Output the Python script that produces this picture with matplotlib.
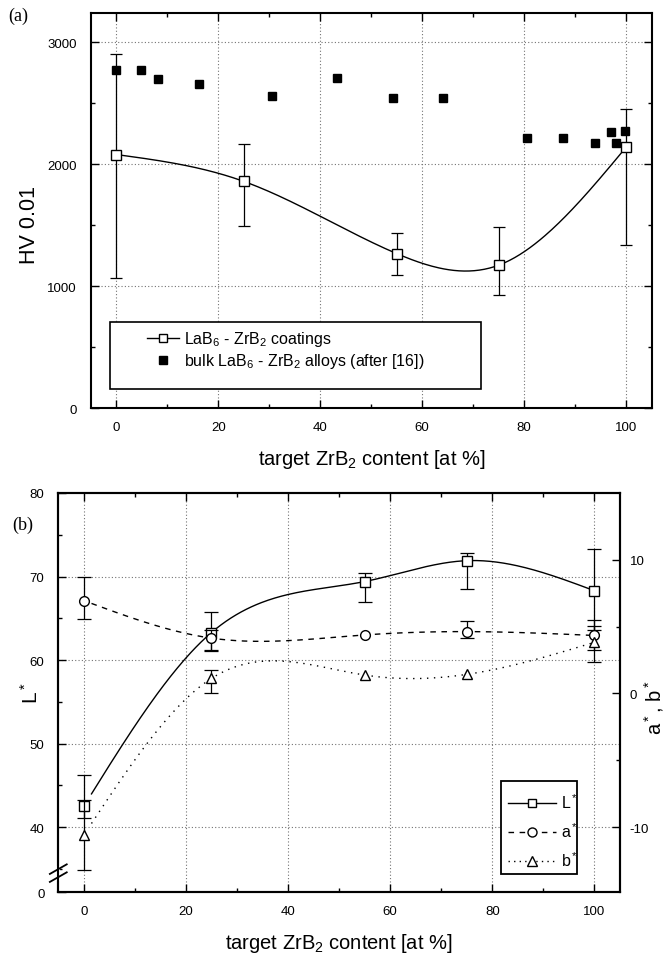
import numpy as np
import matplotlib
matplotlib.use("Agg")
import matplotlib.pyplot as plt
from matplotlib.patches import Rectangle
from matplotlib.lines import Line2D

plt.rcParams['font.family'] = ['Liberation Sans', 'DejaVu Sans']
plt.rcParams['mathtext.fontset'] = 'custom'
plt.rcParams['mathtext.rm'] = 'Liberation Sans'
plt.rcParams['mathtext.it'] = 'Liberation Sans:italic'
plt.rcParams['mathtext.bf'] = 'Liberation Sans:bold'
plt.rcParams['axes.unicode_minus'] = False

# ---------------- data: panel (a) ----------------
coat_x = [0, 25, 55, 75, 100]
coat_hv = [2080, 1860, 1268, 1173, 2141]
coat_err_lo = [1010, 368, 174, 246, 800]
coat_err_hi = [820, 303, 169, 313, 313]

bulk_x = [0, 4.8, 8.1, 16.2, 30.6, 43.2, 54.3, 64.1, 80.6, 87.6, 93.9, 97.0, 98.0, 99.7]
bulk_hv = [2773, 2773, 2700, 2656, 2563, 2711, 2542, 2542, 2217, 2217, 2171, 2263, 2171, 2269]

# ---------------- data: panel (b) ----------------
col_x = [0, 25, 55, 75, 100]
L_star = [42.5, 63.3, 69.4, 71.9, 68.3]
L_err_lo = [1.4, 2.2, 2.4, 3.4, 4.7]
L_err_hi = [3.7, 2.4, 1.0, 0.9, 5.0]
a_star = [6.95, 4.14, 4.38, 4.63, 4.34]
a_err_lo = [1.4, 0.9, 0.0, 0.49, 1.08]
a_err_hi = [1.8, 0.6, 0.0, 0.77, 1.17]
b_star = [-10.6, 1.13, 1.38, 1.43, 3.83]
b_err_lo = [2.6, 1.1, 0.0, 0.0, 1.45]
b_err_hi = [2.6, 0.6, 0.0, 0.0, 1.2]

x_ticks = [0, 20, 40, 60, 80, 100]
hv_ticks = [0, 1000, 2000, 3000]
L_ticks = [40, 50, 60, 70, 80]
ab_ticks = [-10, 0, 10]

TICK_FS = 9.5
LABEL_FS = 14.5


def natural_spline(x, y, xs):
    x = np.asarray(x, float); y = np.asarray(y, float)
    n = len(x); h = np.diff(x)
    A = np.zeros((n, n)); r = np.zeros(n)
    A[0, 0] = 1; A[-1, -1] = 1
    for i in range(1, n - 1):
        A[i, i - 1] = h[i - 1]; A[i, i] = 2 * (h[i - 1] + h[i]); A[i, i + 1] = h[i]
        r[i] = 3 * ((y[i + 1] - y[i]) / h[i] - (y[i] - y[i - 1]) / h[i - 1])
    c = np.linalg.solve(A, r)
    b = (y[1:] - y[:-1]) / h - h * (2 * c[:-1] + c[1:]) / 3
    d = (c[1:] - c[:-1]) / (3 * h)
    idx = np.clip(np.searchsorted(x, xs) - 1, 0, n - 2)
    dx = xs - x[idx]
    return y[idx] + b[idx] * dx + c[idx] * dx ** 2 + d[idx] * dx ** 3


def err_subset(x, y, lo, hi):
    x = np.asarray(x); y = np.asarray(y); lo = np.asarray(lo); hi = np.asarray(hi)
    m = (lo > 0) | (hi > 0)
    return x[m], y[m], np.vstack([lo[m], hi[m]])


grid_kw = dict(color='0.45', linestyle=(0, (1, 2)), linewidth=0.8)
fig = plt.figure(figsize=(6.71, 9.54), dpi=100)

# ================= panel (a) =================
axa = fig.add_axes([90.7 / 671, 1 - 409.3 / 954, 561 / 671, 395.3 / 954])
axa.set_xlim(-5, 105)
axa.set_ylim(0, 3240)
axa.set_xticks(x_ticks)
axa.set_xticks(np.arange(10, 100, 20), minor=True)
axa.set_yticks(hv_ticks)
axa.set_yticks([500, 1500, 2500], minor=True)
for xv in x_ticks:
    axa.axvline(xv, zorder=0.5, **grid_kw)
for yv in hv_ticks[1:]:
    axa.axhline(yv, zorder=0.5, **grid_kw)

xs = np.linspace(coat_x[0] + 1, coat_x[-1], 300)
axa.plot(xs, natural_spline(coat_x, coat_hv, xs), color='k', lw=1.0, zorder=2)
ex, ey, ee = err_subset(coat_x, coat_hv, coat_err_lo, coat_err_hi)
axa.errorbar(ex, ey, yerr=ee, fmt='none', ecolor='k', elinewidth=0.9, capsize=4, capthick=0.9, zorder=2.5)
axa.plot(coat_x, coat_hv, 's', ms=6.5, mfc='white', mec='k', mew=1.0, ls='none', zorder=3)
axa.plot(bulk_x, bulk_hv, 's', ms=6, mfc='k', mec='k', ls='none', zorder=3)

axa.tick_params(which='both', direction='in', top=True, right=True, width=1.0, labelsize=TICK_FS)
axa.tick_params(which='major', length=5.5)
axa.tick_params(which='minor', length=3)
axa.tick_params(axis='x', pad=9)
axa.tick_params(axis='y', pad=10)
for s in axa.spines.values():
    s.set_linewidth(1.5)
axa.set_ylabel('HV 0.01', fontsize=15.5)
axa.yaxis.set_label_coords(-0.09, 0.466)
axa.set_xlabel('target ZrB$_2$ content [at %]', fontsize=LABEL_FS)
axa.xaxis.set_label_coords(0.5, -0.097)
axa.xaxis.label.set_va('top')

# legend (a)
axa.add_patch(Rectangle((0.034, 0.049), 0.662, 0.169, transform=axa.transAxes,
                        facecolor='white', edgecolor='k', lw=1.2, zorder=4))
ha = [Line2D([], [], color='k', lw=1.0, marker='s', ms=6, mfc='white', mec='k'),
      Line2D([], [], color='k', lw=0, marker='s', ms=6, mfc='k', mec='k')]
lga = axa.legend(ha, ['LaB$_6$ - ZrB$_2$ coatings', 'bulk LaB$_6$ - ZrB$_2$ alloys (after [16])'],
                 loc='upper left', bbox_to_anchor=(0.1, 0.2), frameon=False, fontsize=11.5,
                 borderpad=0, handlelength=2.0, handletextpad=0.3, labelspacing=0.2,
                 numpoints=1, borderaxespad=0)
lga.set_zorder(5)

# ================= panel (b) =================
axb = fig.add_axes([58.3 / 671, 1 - 893.3 / 954, 561.7 / 671, 399.3 / 954])
axb.set_xlim(-5, 105)
Lbot = 32.2
axb.set_ylim(Lbot, 80)
axb.set_xticks(x_ticks)
axb.set_xticks(np.arange(10, 100, 20), minor=True)
axb.set_yticks([Lbot] + L_ticks)
axb.set_yticklabels(['0'] + [str(v) for v in L_ticks])
axb.set_yticks([35, 45, 55, 65, 75], minor=True)
for xv in x_ticks:
    axb.axvline(xv, zorder=0.5, **grid_kw)
for yv in L_ticks[:-1]:
    axb.axhline(yv, zorder=0.5, **grid_kw)

ax2 = axb.twinx()
ax2.set_ylim((Lbot - 56.0) / 1.6, (80 - 56.0) / 1.6)
ax2.set_yticks(ab_ticks)
ax2.set_yticks([-5, 5], minor=True)

xs = np.linspace(col_x[0] + 1.5, col_x[-1], 300)
axb.plot(xs, natural_spline(col_x, L_star, xs), color='k', lw=1.0, zorder=2)
ex, ey, ee = err_subset(col_x, L_star, L_err_lo, L_err_hi)
axb.errorbar(ex, ey, yerr=ee, fmt='none', ecolor='k', elinewidth=0.9, capsize=5, capthick=0.9, zorder=2.5)
axb.plot(col_x, L_star, 's', ms=6.5, mfc='white', mec='k', mew=1.0, ls='none', zorder=3)

xs2 = np.linspace(col_x[0] + 1.5, col_x[-1], 300)
ax2.plot(xs2, natural_spline(col_x, a_star, xs2), color='k', lw=1.0, ls=(0, (4, 4)), zorder=2)
ax2.plot(xs2, natural_spline(col_x, b_star, xs2), color='k', lw=1.0, ls=(0, (1, 4)), zorder=2)
ex, ey, ee = err_subset(col_x, a_star, a_err_lo, a_err_hi)
ax2.errorbar(ex, ey, yerr=ee, fmt='none', ecolor='k', elinewidth=0.9, capsize=5, capthick=0.9, zorder=2.5)
ex, ey, ee = err_subset(col_x, b_star, b_err_lo, b_err_hi)
ax2.errorbar(ex, ey, yerr=ee, fmt='none', ecolor='k', elinewidth=0.9, capsize=5, capthick=0.9, zorder=2.5)
ax2.plot(col_x, a_star, 'o', ms=7, mfc='white', mec='k', mew=1.0, ls='none', zorder=3)
ax2.plot(col_x, b_star, '^', ms=7, mfc='white', mec='k', mew=1.0, ls='none', zorder=3)

axb.tick_params(which='both', direction='in', top=True, right=False, width=1.0, labelsize=TICK_FS)
axb.tick_params(which='major', length=5.5)
axb.tick_params(which='minor', length=3)
axb.tick_params(axis='x', pad=9)
axb.tick_params(axis='y', pad=10)
ax2.tick_params(which='both', direction='in', right=True, width=1.0, labelsize=TICK_FS, pad=7)
ax2.tick_params(which='major', length=5.5)
ax2.tick_params(which='minor', length=3)
for s in list(axb.spines.values()) + list(ax2.spines.values()):
    s.set_linewidth(1.5)

axb.set_ylabel('L$^*$', fontsize=15)
axb.yaxis.set_label_coords(-0.03, 0.5)
ax2.set_ylabel('a$^*$, b$^*$', fontsize=14.5, rotation=90)
ax2.yaxis.set_label_coords(1.04, 0.464)
axb.set_xlabel('target ZrB$_2$ content [at %]', fontsize=LABEL_FS)
axb.xaxis.set_label_coords(0.5, -0.097)
axb.xaxis.label.set_va('top')

# axis break marks on the left spine
tr = axb.transAxes
y1, y2 = 0.058, 0.038
axb.plot([0, 0], [y2 - 0.004, y1 + 0.004], color='white', lw=3, transform=tr, clip_on=False, zorder=6)
for yc in (y1, y2):
    axb.plot([-0.015, 0.015], [yc - 0.012, yc + 0.012], color='k', lw=1.3, transform=tr,
             clip_on=False, zorder=7)

# legend (b)
ax2.add_patch(Rectangle((0.789, 0.046), 0.135, 0.233, transform=ax2.transAxes,
                        facecolor='white', edgecolor='k', lw=1.3, zorder=4))
hb = [Line2D([], [], color='k', lw=1.0, marker='s', ms=6, mfc='white', mec='k'),
      Line2D([], [], color='k', lw=1.0, ls=(0, (4, 4)), marker='o', ms=6.5, mfc='white', mec='k'),
      Line2D([], [], color='k', lw=1.0, ls=(0, (1, 3)), marker='^', ms=6.5, mfc='white', mec='k')]
lgb = ax2.legend(hb, ['L$^*$', 'a$^*$', 'b$^*$'], loc='upper left', bbox_to_anchor=(0.801, 0.25),
                 frameon=False, fontsize=11.5, borderpad=0, handlelength=3.0, handletextpad=0.3,
                 labelspacing=0.65, numpoints=1, borderaxespad=0)
lgb.set_zorder(5)

fig.text(8 / 671, 1 - 8 / 954, '(a)', va='top', ha='left', fontsize=13,
         family=['Liberation Serif', 'DejaVu Serif'])
fig.text(12 / 671, 1 - 517 / 954, '(b)', va='top', ha='left', fontsize=13,
         family=['Liberation Serif', 'DejaVu Serif'])

fig.savefig('out.png', dpi=100, facecolor='white')
